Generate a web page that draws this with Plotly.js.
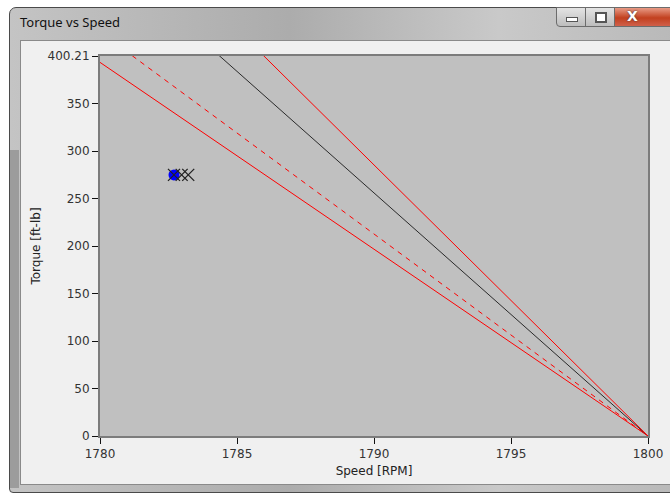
<!DOCTYPE html>
<html>
<head>
<meta charset="utf-8">
<script src="https://cdn.plot.ly/plotly-3.0.1.min.js"></script>
<style>
  html, body { margin:0; padding:0; width:670px; height:498px; overflow:hidden; background:#ffffff; font-family:"DejaVu Sans", "Liberation Sans", sans-serif; }
  #frame { position:absolute; left:9px; top:7px; width:700px; height:486px; border:1px solid #4a4a4a; border-radius:7px 7px 4px 4px;
           background:linear-gradient(to right, #c4c4c4 0%, #acacac 40%, #c9c9c9 70%, #b6b6b6 100%); box-sizing:border-box; }
  #titletext { position:absolute; left:20px; top:13px; font-size:13px; color:#111; font-family:"Noto Sans", "DejaVu Sans", sans-serif; }
  #client { position:absolute; left:20px; top:40px; width:700px; height:445px; background:#f0f0f0; border:1px solid #8a8a8a; box-sizing:border-box; }
  #strip { position:absolute; left:10px; top:150px; width:9px; height:338px; background:#9c9c9c; }
  .btn { position:absolute; top:7px; height:20px; border:1px solid #6c6c6c; box-sizing:border-box; }
  #bmin { left:556px; width:30px; border-radius:0 0 0 4px; background:linear-gradient(#e4e4e4,#bdbdbd); }
  #bmax { left:585px; width:30px; background:linear-gradient(#e4e4e4,#bdbdbd); }
  #bclose { left:614px; width:70px; background:linear-gradient(#e89a85,#c2401f 55%,#d0604a); }
  #bmin i { position:absolute; left:9px; top:9px; width:10px; height:3px; background:#fff; border:1px solid #555; }
  #bmax i { position:absolute; left:9px; top:4px; width:8px; height:7px; border:2px solid #555; background:#fff; }
  #bclose span { position:absolute; left:12px; top:0px; font-weight:bold; font-size:14px; color:#fff; text-shadow:0 0 2px #333; }
  #plot { position:absolute; left:0; top:0; width:670px; height:498px; }
</style>
</head>
<body>
<div id="frame"></div>
<div id="strip"></div>
<div id="titletext">Torque vs Speed</div>
<div class="btn" id="bmin"><i></i></div>
<div class="btn" id="bmax"><i></i></div>
<div class="btn" id="bclose"><span>X</span></div>
<div id="client"></div>
<div id="plot"></div>
<script>
// ---- data ----
const lineSpeed = [1780, 1800];
const lowerRedTorque = [393.5, 0];
const dashedRedTorque = [425.5, 0];
const blackTorque = [512.0, 0];
const upperRedTorque = [571.0, 0];

const pointSpeed = [1782.7];
const pointTorque = [275];
const crossSpeed = [1782.7, 1782.98, 1783.22];
const crossTorque = [275, 275, 275];

const yTickVals = [0, 50, 100, 150, 200, 250, 300, 350, 400.21];
const yTickText = ["0", "50", "100", "150", "200", "250", "300", "350", "400.21"];
const xTickVals = [1780, 1785, 1790, 1795, 1800];
const xTickText = ["1780", "1785", "1790", "1795", "1800"];

const traces = [
  {x: lineSpeed, y: lowerRedTorque, mode: 'lines', line: {color: '#ff0000', width: 1}},
  {x: lineSpeed, y: dashedRedTorque, mode: 'lines', line: {color: '#ff0000', width: 1, dash: '5px,5px'}},
  {x: lineSpeed, y: blackTorque, mode: 'lines', line: {color: '#2a2a2a', width: 1}},
  {x: lineSpeed, y: upperRedTorque, mode: 'lines', line: {color: '#ff0000', width: 1}},
  {x: pointSpeed, y: pointTorque, mode: 'markers', marker: {color: '#0000ff', size: 11, symbol: 'circle'}},
  {x: crossSpeed, y: crossTorque, mode: 'markers', marker: {symbol: 'x-thin', size: 12, line: {color: '#222222', width: 1.3}}}
];

const tickFont = {family: '"DejaVu Sans", sans-serif', size: 12, color: '#333333'};
const layout = {
  width: 670, height: 498,
  paper_bgcolor: 'rgba(0,0,0,0)',
  plot_bgcolor: '#c0c0c0',
  margin: {l: 100, r: 22, t: 56, b: 62},
  showlegend: false,
  xaxis: {
    range: [1780, 1800], tickvals: xTickVals, ticktext: xTickText,
    showgrid: false, zeroline: false, showline: true, linecolor: '#7c7c7c', linewidth: 2, mirror: true,
    ticks: 'outside', ticklen: 6, tickcolor: '#111', tickwidth: 1, tickfont: tickFont,
    title: {text: 'Speed [RPM]', font: {family: '"DejaVu Sans", sans-serif', size: 12, color: '#222'}, standoff: 6}
  },
  yaxis: {
    range: [0, 400.21], tickvals: yTickVals, ticktext: yTickText,
    showgrid: false, zeroline: false, showline: true, linecolor: '#7c7c7c', linewidth: 2, mirror: true,
    ticks: 'outside', ticklen: 6, tickcolor: '#111', tickwidth: 1, tickfont: tickFont,
    title: {text: 'Torque [ft-lb]', font: {family: '"DejaVu Sans", sans-serif', size: 12, color: '#222'}, standoff: 4}
  }
};

Plotly.newPlot('plot', traces, layout, {displayModeBar: false, staticPlot: true});
</script>
</body>
</html>
